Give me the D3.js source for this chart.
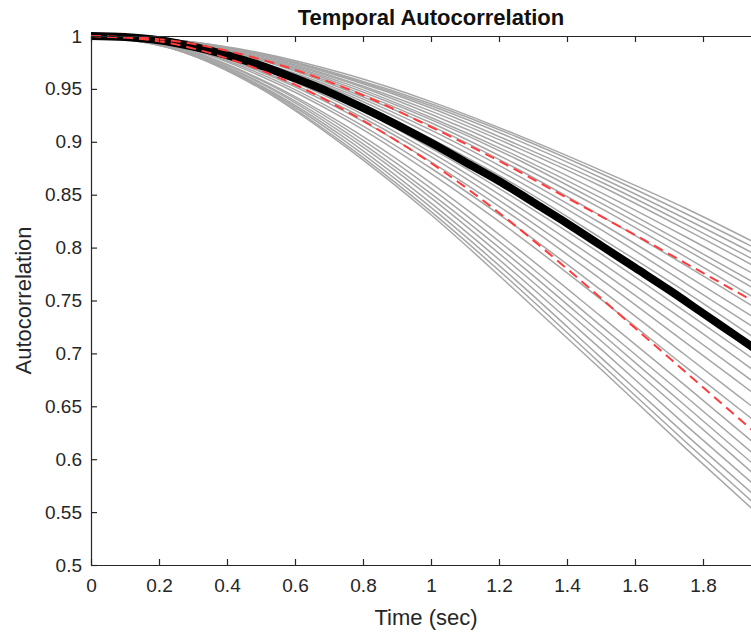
<!DOCTYPE html>
<html>
<head>
<meta charset="utf-8">
<script src="https://cdn.jsdelivr.net/npm/d3@7"></script>
<style>
  html, body { margin: 0; padding: 0; background: #fff; }
  svg { display: block; }
  text { font-family: "Liberation Sans", Arial, Helvetica, sans-serif; }
</style>
</head>
<body>
<svg id="chart" width="751" height="632"></svg>
<script>
// ---- Data ----
const xTickValues = [0, 0.2, 0.4, 0.6, 0.8, 1, 1.2, 1.4, 1.6, 1.8];
const xTickLabels = ["0", "0.2", "0.4", "0.6", "0.8", "1", "1.2", "1.4", "1.6", "1.8"];
const yTickValues = [0.5, 0.55, 0.6, 0.65, 0.7, 0.75, 0.8, 0.85, 0.9, 0.95, 1];
const yTickLabels = ["0.5", "0.55", "0.6", "0.65", "0.7", "0.75", "0.8", "0.85", "0.9", "0.95", "1"];

// Mean curve (thick black)
const meanTime = [0, 0.1, 0.2, 0.3, 0.4, 0.5, 0.6, 0.7, 0.8, 0.9, 1.0, 1.1, 1.2, 1.3, 1.4, 1.5, 1.6, 1.7, 1.8, 1.9, 2.0];
const meanValues = [1.000, 0.999, 0.996, 0.990, 0.982, 0.972, 0.960, 0.947, 0.932, 0.916, 0.899, 0.881, 0.863, 0.843, 0.823, 0.802, 0.781, 0.760, 0.738, 0.716, 0.694];

// Red dashed band curves
const bandTime = [0, 0.2, 0.4, 0.6, 0.8, 1.0, 1.2, 1.4, 1.6, 1.8, 2.0];
const upperValues = [1.000, 0.997, 0.986, 0.968, 0.944, 0.914, 0.882, 0.847, 0.812, 0.776, 0.740];
const lowerValues = [1.000, 0.995, 0.979, 0.954, 0.920, 0.880, 0.833, 0.780, 0.724, 0.668, 0.612];

// Individual curves (grey)
const greyTime = [0, 0.25, 0.5, 0.75, 1.0, 1.25, 1.5, 1.75, 2.0];
const greyCurves = [
  [1, 0.996, 0.984, 0.964, 0.938, 0.907, 0.873, 0.837, 0.797],
  [1, 0.996, 0.983, 0.962, 0.936, 0.905, 0.870, 0.832, 0.792],
  [1, 0.996, 0.983, 0.961, 0.934, 0.902, 0.866, 0.827, 0.786],
  [1, 0.996, 0.982, 0.960, 0.932, 0.898, 0.862, 0.822, 0.780],
  [1, 0.996, 0.981, 0.958, 0.929, 0.895, 0.858, 0.817, 0.774],
  [1, 0.996, 0.980, 0.957, 0.926, 0.891, 0.852, 0.810, 0.766],
  [1, 0.995, 0.979, 0.955, 0.923, 0.887, 0.847, 0.803, 0.758],
  [1, 0.995, 0.979, 0.953, 0.921, 0.884, 0.842, 0.798, 0.752],
  [1, 0.995, 0.978, 0.951, 0.918, 0.879, 0.837, 0.791, 0.743],
  [1, 0.994, 0.977, 0.949, 0.915, 0.875, 0.830, 0.783, 0.734],
  [1, 0.994, 0.975, 0.947, 0.911, 0.869, 0.823, 0.774, 0.724],
  [1, 0.994, 0.974, 0.945, 0.907, 0.864, 0.817, 0.766, 0.714],
  [1, 0.993, 0.973, 0.942, 0.903, 0.859, 0.809, 0.758, 0.704],
  [1, 0.993, 0.970, 0.937, 0.894, 0.846, 0.794, 0.739, 0.683],
  [1, 0.992, 0.969, 0.934, 0.890, 0.840, 0.786, 0.730, 0.672],
  [1, 0.992, 0.967, 0.931, 0.886, 0.834, 0.778, 0.720, 0.661],
  [1, 0.992, 0.966, 0.928, 0.881, 0.828, 0.770, 0.710, 0.650],
  [1, 0.991, 0.964, 0.924, 0.875, 0.820, 0.760, 0.698, 0.636],
  [1, 0.991, 0.962, 0.921, 0.870, 0.813, 0.751, 0.687, 0.624],
  [1, 0.990, 0.959, 0.915, 0.861, 0.800, 0.735, 0.669, 0.602],
  [1, 0.989, 0.958, 0.912, 0.856, 0.793, 0.726, 0.659, 0.591],
  [1, 0.989, 0.956, 0.909, 0.851, 0.787, 0.719, 0.650, 0.581],
  [1, 0.988, 0.955, 0.906, 0.847, 0.781, 0.712, 0.642, 0.572],
  [1, 0.988, 0.953, 0.903, 0.842, 0.775, 0.704, 0.632, 0.562],
  [1, 0.987, 0.952, 0.900, 0.838, 0.769, 0.696, 0.623, 0.552],
  [1, 0.987, 0.951, 0.897, 0.834, 0.764, 0.690, 0.616, 0.544],
  [1, 0.987, 0.950, 0.895, 0.831, 0.759, 0.685, 0.610, 0.537]
];

const titleText = "Temporal Autocorrelation";
const xLabelText = "Time (sec)";
const yLabelText = "Autocorrelation";

// ---- Layout ----
const plotLeft = 91, plotRight = 771, plotTop = 36, plotBottom = 565;
const svg = d3.select("#chart");
const x = d3.scaleLinear().domain([0, 2]).range([plotLeft, plotRight]);
const y = d3.scaleLinear().domain([0.5, 1]).range([plotBottom, plotTop]);
const axisColor = "#262626";

svg.append("defs").append("clipPath").attr("id", "plotclip")
  .append("rect").attr("x", plotLeft).attr("y", plotTop - 10)
  .attr("width", plotRight - plotLeft).attr("height", plotBottom - plotTop + 10);

const makeLine = (times) => d3.line()
  .x((d, i) => x(times[i]))
  .y(d => y(d))
  .curve(d3.curveMonotoneX);

const plot = svg.append("g").attr("clip-path", "url(#plotclip)");

plot.selectAll("path.grey").data(greyCurves).enter().append("path")
  .attr("class", "grey")
  .attr("d", makeLine(greyTime))
  .attr("fill", "none")
  .attr("stroke", "#a6a6a6")
  .attr("stroke-width", 1.5);

plot.append("path").datum(meanValues)
  .attr("d", makeLine(meanTime))
  .attr("fill", "none")
  .attr("stroke", "#000")
  .attr("stroke-width", 8);

[upperValues, lowerValues].forEach(vals => {
  plot.append("path").datum(vals)
    .attr("d", makeLine(bandTime))
    .attr("fill", "none")
    .attr("stroke", "#ff3b3b")
    .attr("stroke-width", 2)
    .attr("stroke-dasharray", "10,6");
});

// ---- Axes (MATLAB style, ticks inward, box) ----
const tickLen = 6;
const xAxisBottom = d3.axisBottom(x).tickValues(xTickValues)
  .tickSizeInner(-tickLen).tickSizeOuter(0)
  .tickFormat((d, i) => xTickLabels[i]).tickPadding(14);
const gx = svg.append("g").attr("transform", `translate(0,${plotBottom})`).call(xAxisBottom);

const xAxisTop = d3.axisTop(x).tickValues(xTickValues)
  .tickSizeInner(-tickLen).tickSizeOuter(0).tickFormat("");
const gxt = svg.append("g").attr("transform", `translate(0,${plotTop})`).call(xAxisTop);

const yAxisLeft = d3.axisLeft(y).tickValues(yTickValues)
  .tickSizeInner(-tickLen).tickSizeOuter(0)
  .tickFormat((d, i) => yTickLabels[i]).tickPadding(9);
const gy = svg.append("g").attr("transform", `translate(${plotLeft},0)`).call(yAxisLeft);

[gx, gxt, gy].forEach(g => {
  g.select(".domain").attr("stroke", axisColor).attr("stroke-width", 1.2);
  g.selectAll(".tick line").attr("stroke", axisColor).attr("stroke-width", 1.2);
  g.selectAll(".tick text").attr("fill", axisColor)
    .style("font-family", "'Liberation Sans', Arial, sans-serif")
    .style("font-size", "19px");
});
gx.selectAll(".tick text").attr("dy", "0.71em");

// ---- Titles ----
svg.append("text").attr("x", (plotLeft + plotRight) / 2).attr("y", 25)
  .attr("text-anchor", "middle").attr("fill", "#111")
  .style("font-size", "22px").style("font-weight", "bold")
  .text(titleText);

svg.append("text").attr("x", (plotLeft + plotRight) / 2 - 5).attr("y", 625)
  .attr("text-anchor", "middle").attr("fill", axisColor)
  .style("font-size", "22px")
  .text(xLabelText);

svg.append("text")
  .attr("transform", `translate(31,${(plotTop + plotBottom) / 2}) rotate(-90)`)
  .attr("text-anchor", "middle").attr("fill", axisColor)
  .style("font-size", "22px")
  .text(yLabelText);
</script>
</body>
</html>
